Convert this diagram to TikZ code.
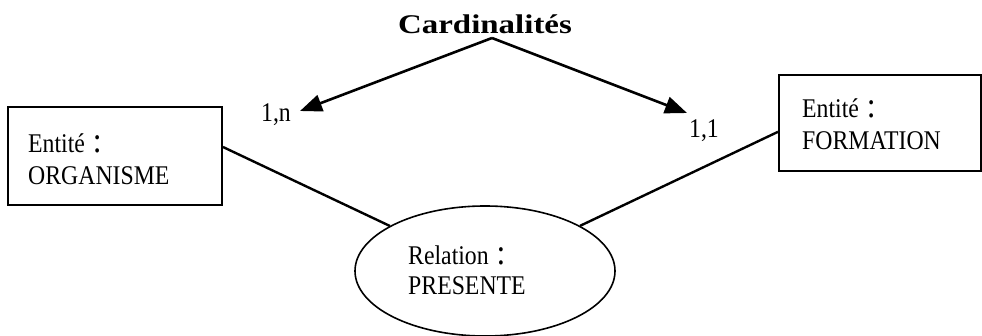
\documentclass[tikz,border=0pt]{standalone}
\usepackage{fontspec}
\setmainfont{Liberation Serif}
\newfontfamily\bodyfont[FakeStretch=0.88]{Liberation Serif}
\newfontfamily\titlefont[FakeStretch=1.22]{Liberation Serif}
\newcommand{\bigcolon}{\hspace{8pt}{\fontsize{36}{32}\selectfont :}}
\usetikzlibrary{arrows.meta,shapes.geometric,calc}
\tikzset{
  txt/.style={font=\bodyfont\fontsize{27}{32}\selectfont, inner sep=0pt, align=left},
  entbox/.style={draw, line width=2pt, inner sep=0pt},
  relell/.style={draw, ellipse, line width=1.6pt, inner sep=0pt, minimum width=260pt, minimum height=130pt},
  link/.style={line width=2.4pt},
  card/.style={line width=2.6pt, -{Triangle[length=22pt,width=17pt]}},
}
\begin{document}
\begin{tikzpicture}[x=1pt,y=-1pt]
\useasboundingbox (0,0) rectangle (982,336);
% title
\node[anchor=base, font=\titlefont\bfseries\fontsize{27}{32}\selectfont, inner sep=0pt] (title) at (485,34) {Cardinalités};
\coordinate (apex) at (492,38);
\coordinate (tipL) at (300,111);
\coordinate (tipR) at (687,113);
\draw[card] (apex) -- (tipL);
\draw[card] (apex) -- (tipR);
\node[txt, anchor=base] (cn) at (276,122) {1,n};
\node[txt, anchor=base] (c1) at (704,138) {1,1};
% boxes
\node[entbox, minimum width=214pt, minimum height=98pt] (org) at (115,156) {};
\node[txt, anchor=base west] (orgA) at (28,153) {Entité\bigcolon};
\node[txt, anchor=base west] (orgB) at (28,185) {ORGANISME};
\node[entbox, minimum width=202pt, minimum height=96pt] (form) at (880,123) {};
\node[txt, anchor=base west] (formA) at (802,118) {Entité\bigcolon};
\node[txt, anchor=base west] (formB) at (802,150) {FORMATION};
% relation
\node[relell] (rel) at (485,271) {};
\node[txt, anchor=base west] (relA) at (408,265) {Relation\bigcolon};
\node[txt, anchor=base west] (relB) at (408,295) {PRESENTE};
% links
\draw[link] ($(org.north east)!0.41!(org.south east)$) -- (rel);
\draw[link] ($(form.north west)!0.59!(form.south west)$) -- (rel);
\end{tikzpicture}
\end{document}
